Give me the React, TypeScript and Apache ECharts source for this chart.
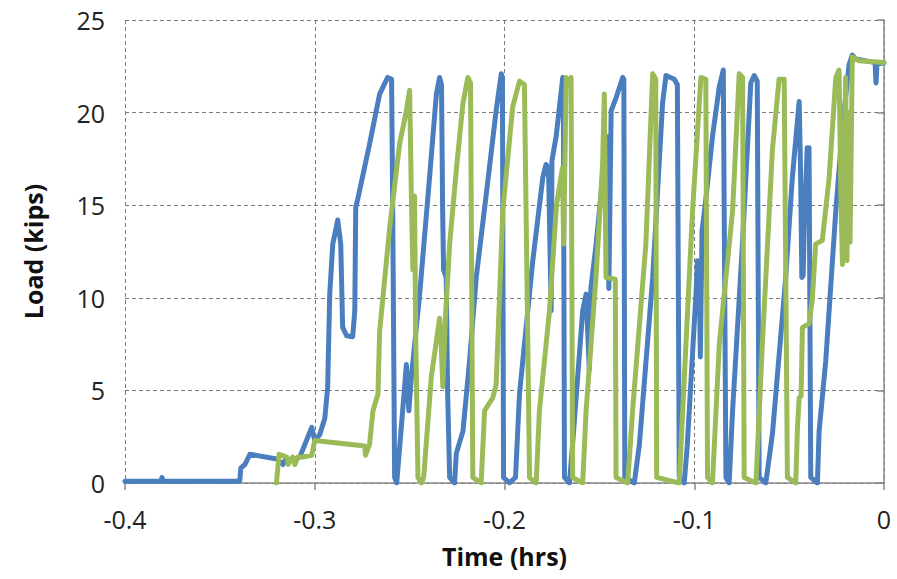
import React, { useEffect, useRef } from "react";
import * as echarts from "echarts";

const xTicks = [-0.4, -0.3, -0.2, -0.1, 0];
const yTicks = [0, 5, 10, 15, 20, 25];

const blueTime = [
  -0.4, -0.381, -0.3805, -0.38, -0.3395, -0.339, -0.3368, -0.3342, -0.32, -0.3168, -0.3158, -0.3116, -0.3079,
  -0.3016, -0.3, -0.2974, -0.2947, -0.2932, -0.2921, -0.2905, -0.2879, -0.2863, -0.2853, -0.2832, -0.28,
  -0.2789, -0.2784, -0.2774, -0.2711, -0.2658, -0.2616, -0.2595, -0.2589, -0.2579, -0.2568, -0.2544, -0.2517,
  -0.2504, -0.2491, -0.2447, -0.2395, -0.2359, -0.2342, -0.2332, -0.2326, -0.2321, -0.2307, -0.23, -0.2289,
  -0.2263, -0.2254, -0.2219, -0.2184, -0.2149, -0.2096, -0.2044, -0.2017, -0.2011, -0.2005, -0.1974, -0.1942,
  -0.1921, -0.1851, -0.1798, -0.1781, -0.1768, -0.1754, -0.175, -0.1728, -0.1693, -0.169, -0.1684, -0.1658,
  -0.1641, -0.1588, -0.157, -0.1553, -0.1545, -0.1517, -0.1483, -0.1456, -0.145, -0.1438, -0.1412, -0.1377,
  -0.1371, -0.1366, -0.1316, -0.1289, -0.1219, -0.1167, -0.1149, -0.1105, -0.1089, -0.1079, -0.1053, -0.1037,
  -0.0991, -0.0983, -0.0974, -0.0968, -0.0959, -0.0938, -0.0904, -0.0868, -0.0847, -0.0833, -0.0816, -0.0798,
  -0.0746, -0.0702, -0.0684, -0.0668, -0.0658, -0.0623, -0.0588, -0.0518, -0.0483, -0.0447, -0.044, -0.0433,
  -0.0426, -0.0421, -0.0405, -0.0395, -0.0386, -0.0351, -0.0342, -0.0307, -0.0254, -0.0219, -0.0184, -0.0167,
  -0.0149, -0.0047, -0.0042, -0.0037, 0,
];
const blueLoad = [
  0.1, 0.1, 0.3, 0.1, 0.1, 0.8, 1.0, 1.55, 1.3, 1.0, 1.2, 1.3, 1.4,
  3.0, 2.3, 2.6, 3.5, 5.15, 10.2, 12.9, 14.2, 12.9, 8.4, 7.95, 7.9,
  9.3, 14.9, 15.3, 18.3, 21.0, 21.9, 21.8, 14.7, 0.3, 0, 3.0, 6.4,
  3.9, 5.7, 10.2, 16.5, 21.0, 21.9, 21.5, 14.7, 11.5, 11.1, 5, 0.3,
  0, 1.6, 2.8, 6.6, 11.1, 15.6, 20.1, 22.1, 21.9, 0.3, 0, 0.3,
  4.8, 12, 16.5, 17.2, 17, 9.3, 17.4, 18.7, 21.9, 21.8, 0.3, 0,
  2.1, 9.3, 10.2, 6.1, 10.5, 12.9, 16.5, 18.7, 10.5, 20.1, 20.8, 21.9,
  21.8, 0.3, 0, 2.1, 11.1, 20.5, 22.0, 21.8, 21.5, 0.3, 0, 2,
  10.2, 12, 11.9, 6.8, 13.6, 15.4, 18.7, 21.4, 22.3, 0.3, 0, 3.9,
  12.9, 21.6, 22.0, 21.7, 0.3, 0, 2.65, 11.1, 16.5, 20.6, 17, 11.1,
  11.2, 13.6, 18.1, 18.1, 0.3, 0, 2.8, 6.6, 14.7, 19.2, 22.6, 23.1,
  22.9, 22.7, 21.6, 22.6, 22.7,
];

const greenTime = [
  -0.3202, -0.3188, -0.3147, -0.3141, -0.3116, -0.3105, -0.3089, -0.3063, -0.3016, -0.3, -0.2737, -0.2732,
  -0.2711, -0.2693, -0.2667, -0.2658, -0.2605, -0.2553, -0.2517, -0.25, -0.2491, -0.2483, -0.2474, -0.2468,
  -0.2456, -0.2438, -0.2426, -0.2386, -0.2342, -0.2334, -0.2325, -0.2311, -0.2289, -0.2254, -0.2219, -0.2193,
  -0.2179, -0.2167, -0.2123, -0.2105, -0.2062, -0.2044, -0.2009, -0.1957, -0.1921, -0.1895, -0.1868, -0.1833,
  -0.1816, -0.1763, -0.1726, -0.1695, -0.1688, -0.1675, -0.1658, -0.1649, -0.1641, -0.1588, -0.157, -0.1518,
  -0.1483, -0.1474, -0.1465, -0.1416, -0.1412, -0.1351, -0.1325, -0.1255, -0.1219, -0.1203, -0.1198, -0.1079,
  -0.1061, -0.1009, -0.0965, -0.0939, -0.093, -0.0904, -0.0868, -0.0798, -0.0763, -0.0745, -0.0737, -0.0675,
  -0.0641, -0.0588, -0.0553, -0.0526, -0.0509, -0.0465, -0.0456, -0.0447, -0.0437, -0.043, -0.0395, -0.0378,
  -0.036, -0.0325, -0.0289, -0.0254, -0.0237, -0.0226, -0.0219, -0.0211, -0.0202, -0.0195, -0.0187, -0.0179,
  -0.0167, -0.0132, 0,
];
const greenLoad = [
  0, 1.55, 1.4, 1.0, 1.4, 1.0, 1.4, 1.4, 1.5, 2.3, 2.0, 1.5,
  2.1, 3.9, 4.8, 8.2, 13.8, 18.3, 20.1, 21.2, 15.6, 11.5, 15.5, 8,
  0.3, 0, 0.3, 5.7, 8.9, 7.5, 5.2, 9, 12.9, 16.9, 20.5, 21.9,
  21.6, 0.3, 0, 3.9, 4.6, 5.3, 14.7, 20.3, 21.7, 21.5, 0.3, 0,
  3.9, 9.3, 15, 17, 12.9, 21.9, 21.5, 21.9, 0.3, 0, 3.9, 11.1,
  17.2, 21.0, 11.1, 11.0, 0.3, 0, 3.9, 12.9, 22.1, 21.8, 0.3, 0,
  3.9, 14.7, 21.9, 21.8, 0.3, 0, 7.5, 14.7, 22.1, 21.9, 0.3, 0,
  7.5, 18.0, 21.8, 21.8, 0.3, 0, 3.0, 4.6, 4.7, 8.4, 8.6, 9.9,
  12.9, 13.1, 16.5, 21.9, 22.3, 15, 11.8, 17, 21.9, 12, 20, 13,
  23.0, 22.8, 22.7,
];

const fontFamily = "'Open Sans', 'Liberation Sans', sans-serif";

export default function App() {
  const ref = useRef<HTMLDivElement>(null);
  useEffect(() => {
    if (!ref.current) return;
    const chart = echarts.init(ref.current, null, { renderer: "svg" });
    const blueData = blueTime.map((t, i) => [t, blueLoad[i]]);
    const greenData = greenTime.map((t, i) => [t, greenLoad[i]]);
    chart.setOption({
      animation: false,
      backgroundColor: "#ffffff",
      grid: { left: 125, right: 13, top: 20, bottom: 96, containLabel: false },
      xAxis: {
        type: "value",
        min: xTicks[0],
        max: xTicks[xTicks.length - 1],
        interval: 0.1,
        name: "Time (hrs)",
        nameLocation: "middle",
        nameGap: 60,
        nameTextStyle: { fontFamily, fontSize: 25, fontWeight: "bold", color: "#111" },
        axisLine: { show: true, lineStyle: { color: "#8a8a8a", width: 1.5 } },
        axisTick: { show: true, length: 7, lineStyle: { color: "#8a8a8a", width: 1.5 } },
        axisLabel: {
          margin: 23,
          fontFamily,
          fontSize: 25,
          color: "#222",
          formatter: (v: number) => {
            const r = Math.round(v * 10) / 10;
            return r === 0 ? "0" : r.toFixed(1);
          },
        },
        splitLine: { show: true, lineStyle: { color: "#7a7a7a", type: [4, 3], width: 1 } },
      },
      yAxis: {
        type: "value",
        min: yTicks[0],
        max: yTicks[yTicks.length - 1],
        interval: 5,
        name: "Load (kips)",
        nameLocation: "middle",
        nameGap: 80,
        nameTextStyle: { fontFamily, fontSize: 25, fontWeight: "bold", color: "#111" },
        axisLine: { show: true, lineStyle: { color: "#8a8a8a", width: 1.5 } },
        axisTick: { show: true, length: 7, lineStyle: { color: "#8a8a8a", width: 1.5 } },
        axisLabel: { margin: 20, fontFamily, fontSize: 25, color: "#222" },
        splitLine: { show: true, lineStyle: { color: "#7a7a7a", type: [4, 3], width: 1 } },
      },
      series: [
        {
          type: "line",
          data: blueData,
          showSymbol: false,
          symbol: "none",
          lineStyle: { color: "#4a7ebf", width: 5, join: "round", cap: "round" },
          z: 2,
        },
        {
          type: "line",
          data: greenData,
          showSymbol: false,
          symbol: "none",
          lineStyle: { color: "#9bbb59", width: 5, join: "round", cap: "round" },
          z: 3,
        },
      ],
    });
    return () => chart.dispose();
  }, []);
  return <div ref={ref} style={{ width: 897, height: 579, position: "absolute", left: 0, top: 0 }} />;
}
